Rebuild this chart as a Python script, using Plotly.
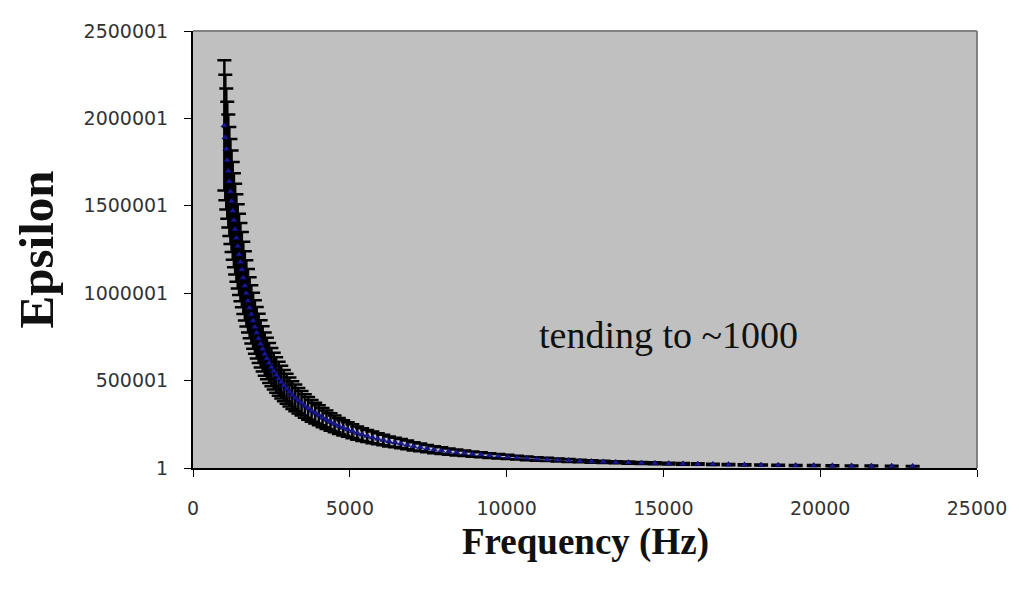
import plotly.graph_objects as go

frequency_hz = [
    1000, 1030, 1061, 1093, 1126, 1159, 1194, 1230, 1267, 1305, 1344, 1384, 1426, 1469,
    1513, 1558, 1605, 1653, 1702, 1754, 1806, 1860, 1916, 1974, 2033, 2094, 2157, 2221,
    2288, 2357, 2427, 2500, 2575, 2652, 2732, 2814, 2898, 2985, 3075, 3167, 3262, 3360,
    3461, 3565, 3671, 3782, 3895, 4012, 4132, 4256, 4384, 4515, 4651, 4790, 4934, 5082,
    5235, 5392, 5553, 5720, 5892, 6068, 6250, 6438, 6631, 6830, 7035, 7246, 7463, 7687,
    7918, 8155, 8400, 8652, 8912, 9179, 9454, 9738, 10030, 10331, 10641, 10960, 11289,
    11628, 11976, 12336, 12706, 13087, 13480, 13884, 14300, 14729, 15171, 15626, 16095,
    16578, 17075, 17588, 18115, 18659, 19218, 19795, 20389, 21000, 21631, 22280, 22948,
]

epsilon = [
    1960000, 1891000, 1825000, 1761000, 1699000, 1639000, 1582000, 1526000, 1471000,
    1417000, 1366000, 1316000, 1268000, 1222000, 1178000, 1135000, 1088000, 1042000,
    999000, 957000, 917000, 879000, 842000, 807000, 774000, 741000, 710000, 681000,
    652000, 626000, 601000, 577000, 554000, 532000, 511000, 491000, 471000, 453000,
    435000, 417000, 401000, 385000, 370000, 355000, 341000, 327000, 314000, 302000,
    288000, 276000, 263000, 252000, 240000, 230000, 220000, 210000, 200000, 191000,
    183000, 175000, 167000, 160000, 152000, 146000, 139000, 132000, 124000, 118000,
    111000, 105000, 99500, 94100, 89000, 84200, 79600, 75300, 71200, 67400, 63100,
    59200, 55400, 51900, 48700, 45600, 42700, 40000, 37500, 35200, 32900, 30800,
    28900, 27100, 25400, 23800, 22300, 20900, 19500, 18300, 17100, 16100, 15000,
    14100, 13200, 12400, 11600, 10900, 10200,
]

error_percent = 19

x_ticks = [0, 5000, 10000, 15000, 20000, 25000]
x_tick_labels = ["0", "5000", "10000", "15000", "20000", "25000"]
y_ticks = [1, 500001, 1000001, 1500001, 2000001, 2500001]
y_tick_labels = ["1", "500001", "1000001", "1500001", "2000001", "2500001"]

note_text = "tending to ~1000"
x_title = "Frequency (Hz)"
y_title = "Epsilon"

fig = go.Figure()
fig.add_trace(go.Scatter(
    x=frequency_hz, y=epsilon, mode="markers",
    marker=dict(symbol="triangle-up", size=6, color="#1a1a8c",
                line=dict(width=0.5, color="#000066")),
    error_y=dict(type="percent", value=error_percent, color="black",
                 thickness=2.5, width=7),
    showlegend=False,
))

fig.add_annotation(x=15160, y=762000, xref="x", yref="y", text=note_text,
                   showarrow=False,
                   font=dict(family="Liberation Serif", size=38, color="#111"))
fig.add_annotation(x=0.5, y=-0.117, xref="paper", yref="paper", text=f"<b>{x_title}</b>",
                   showarrow=False, yanchor="top",
                   font=dict(family="Liberation Serif", size=37, color="#111"))
fig.add_annotation(x=-0.199, y=0.5, xref="paper", yref="paper", text=f"<b>{y_title}</b>",
                   showarrow=False, textangle=-90, xanchor="center",
                   font=dict(family="Liberation Serif", size=49, color="#111"))

# gray frame top and right
fig.add_shape(type="line", xref="paper", yref="paper", x0=0, x1=1, y0=1, y1=1,
              line=dict(color="#808080", width=2))
fig.add_shape(type="line", xref="paper", yref="paper", x0=1, x1=1, y0=0, y1=1,
              line=dict(color="#808080", width=2))

fig.update_layout(
    width=1011, height=581,
    margin=dict(l=185, r=39, t=16, b=121),
    paper_bgcolor="white", plot_bgcolor="#c0c0c0",
    font=dict(family="DejaVu Sans", size=19, color="#333"),
)
fig.update_xaxes(range=[0, 25000], tickvals=x_ticks, ticktext=x_tick_labels,
                 ticks="outside", ticklen=7,
                 tickcolor="black", showline=True, linecolor="black", linewidth=2,
                 showgrid=False, zeroline=False, ticklabelstandoff=15)
fig.update_yaxes(range=[1, 2500001], tickvals=y_ticks, ticktext=y_tick_labels,
                 ticks="outside", ticklen=7, tickcolor="black", showline=True,
                 linecolor="black", linewidth=2, showgrid=False, zeroline=False,
                 ticklabelstandoff=12)

fig.write_html("out.html")
